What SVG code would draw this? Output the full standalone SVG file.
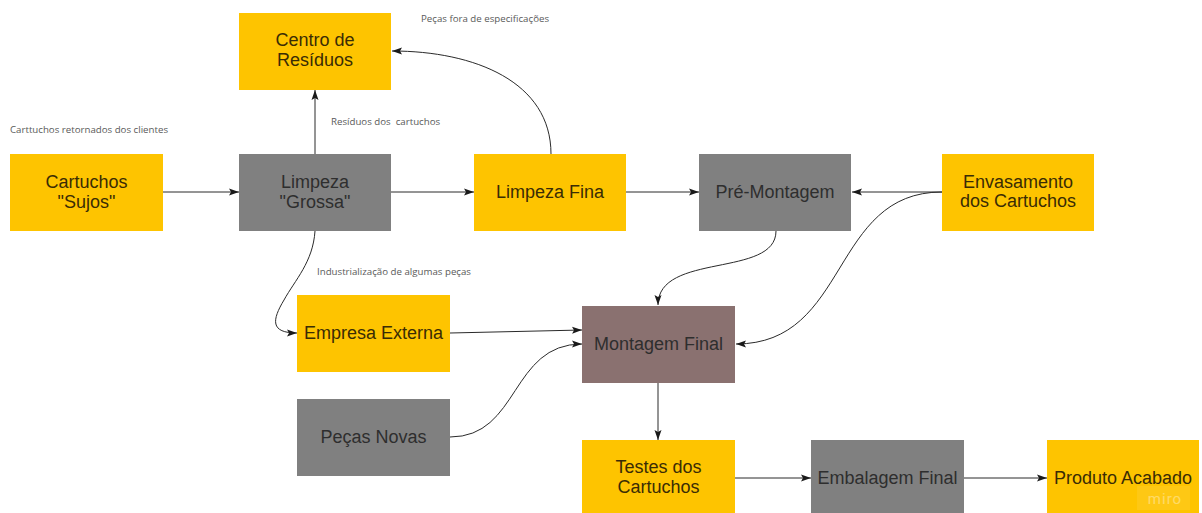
<svg xmlns="http://www.w3.org/2000/svg" width="1202" height="513" viewBox="0 0 1202 513">
  <defs>
    <marker id="arrow" viewBox="0 0 10 8" refX="10" refY="4" markerWidth="10" markerHeight="8" markerUnits="userSpaceOnUse" orient="auto">
      <path d="M0,0.5 L10,4 L0,7.5 L2,4 Z" fill="#1a1a1a"/>
    </marker>
    <style>
      .yellow { fill: #fec400; }
      .gray { fill: #808080; }
      .brown { fill: #8a7170; }
      .label { font-family: "Liberation Sans", Arial, sans-serif; font-size: 18px; text-anchor: middle; }
      .on-yellow { fill: #3a2c05; }
      .on-gray { fill: #2e2e2e; }
      .note { font-family: "Open Sans", "Noto Sans", sans-serif; font-size: 9.7px; fill: #5a5a5a; }
      .edge { fill: none; stroke: #2a2a2a; stroke-width: 1; marker-end: url(#arrow); }
    </style>
  </defs>

  <rect width="1202" height="513" fill="#ffffff"/>

  <!-- connectors -->
  <g id="connectors">
    <path class="edge" d="M163,192 L239,192"/>
    <path class="edge" d="M315,154 L315,90"/>
    <path class="edge" d="M391,192 L474,192"/>
    <path class="edge" d="M551,154 C551,82 475,51 392,51"/>
    <path class="edge" d="M626,192 L699,192"/>
    <path class="edge" d="M942,192 L852,192"/>
    <path class="edge" d="M942,192 C830,192 850,344 736,344"/>
    <path class="edge" d="M776,231 C776,278 658,252 658,305"/>
    <path class="edge" d="M315,231 C313,262 295,280 284,300 C272,320 270,333 297,333"/>
    <path class="edge" d="M450,333 L582,330"/>
    <path class="edge" d="M450,437 C520,437 510,344 582,344"/>
    <path class="edge" d="M658,383 L658,440"/>
    <path class="edge" d="M735,478 L811,478"/>
    <path class="edge" d="M964,478 L1047,478"/>
  </g>

  <!-- edge notes -->
  <g id="notes">
    <text class="note" x="10" y="133">Carttuchos retornados dos clientes</text>
    <text class="note" x="331" y="125" xml:space="preserve">Resíduos dos  cartuchos</text>
    <text class="note" x="421" y="22">Peças fora de especificações</text>
    <text class="note" x="317" y="275">Industrialização de algumas peças</text>
  </g>

  <!-- nodes -->
  <g id="cartuchos-sujos">
    <rect class="yellow" x="10" y="154" width="153" height="77"/>
    <text class="label on-yellow" x="86.5" y="188">Cartuchos</text>
    <text class="label on-yellow" x="86.5" y="208">"Sujos"</text>
  </g>
  <g id="limpeza-grossa">
    <rect class="gray" x="239" y="154" width="152" height="77"/>
    <text class="label on-gray" x="315" y="188">Limpeza</text>
    <text class="label on-gray" x="315" y="208">"Grossa"</text>
  </g>
  <g id="centro-residuos">
    <rect class="yellow" x="239" y="13" width="152" height="77"/>
    <text class="label on-yellow" x="315" y="46">Centro de</text>
    <text class="label on-yellow" x="315" y="66">Resíduos</text>
  </g>
  <g id="limpeza-fina">
    <rect class="yellow" x="474" y="154" width="152" height="77"/>
    <text class="label on-yellow" x="550" y="198">Limpeza Fina</text>
  </g>
  <g id="pre-montagem">
    <rect class="gray" x="699" y="154" width="152" height="77"/>
    <text class="label on-gray" x="775" y="198">Pré-Montagem</text>
  </g>
  <g id="envasamento">
    <rect class="yellow" x="942" y="154" width="152" height="77"/>
    <text class="label on-yellow" x="1018" y="188">Envasamento</text>
    <text class="label on-yellow" x="1018" y="207">dos Cartuchos</text>
  </g>
  <g id="empresa-externa">
    <rect class="yellow" x="297" y="295" width="153" height="77"/>
    <text class="label on-yellow" x="373.5" y="339">Empresa Externa</text>
  </g>
  <g id="pecas-novas">
    <rect class="gray" x="297" y="399" width="153" height="77"/>
    <text class="label on-gray" x="373.5" y="443">Peças Novas</text>
  </g>
  <g id="montagem-final">
    <rect class="brown" x="582" y="306" width="153" height="77"/>
    <text class="label on-gray" x="658.5" y="350">Montagem Final</text>
  </g>
  <g id="testes-cartuchos">
    <rect class="yellow" x="582" y="440" width="153" height="77"/>
    <text class="label on-yellow" x="658.5" y="473">Testes dos</text>
    <text class="label on-yellow" x="658.5" y="493">Cartuchos</text>
  </g>
  <g id="embalagem-final">
    <rect class="gray" x="811" y="440" width="153" height="77"/>
    <text class="label on-gray" x="887.5" y="484">Embalagem Final</text>
  </g>
  <g id="produto-acabado">
    <rect class="yellow" x="1047" y="440" width="152" height="77"/>
    <text class="label on-yellow" x="1123" y="484">Produto Acabado</text>
  </g>

  <!-- board watermark -->
  <g id="watermark">
    <rect x="1137" y="486" width="53" height="24" fill="#ffffff" opacity="0.08"/>
    <text x="1165" y="504" font-family="Roboto, 'Open Sans', sans-serif" font-size="15" fill="#ffffff" opacity="0.35" text-anchor="middle" letter-spacing="1">miro</text>
  </g>
</svg>
